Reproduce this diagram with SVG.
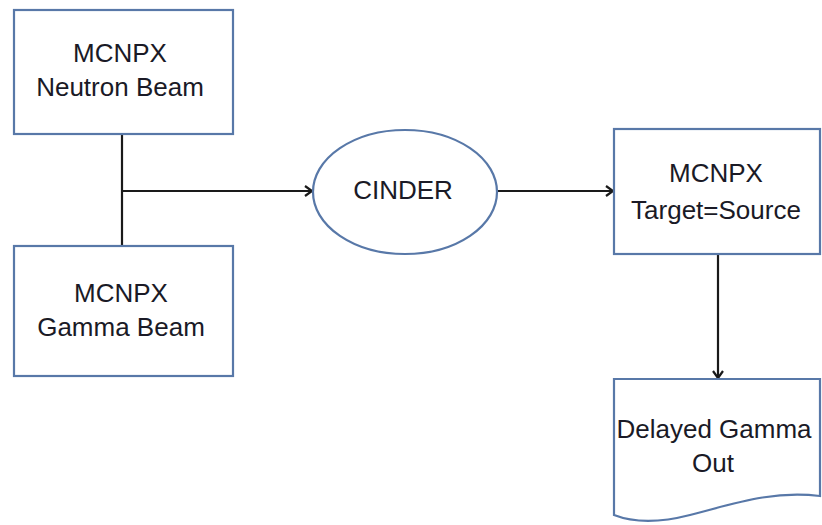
<svg xmlns="http://www.w3.org/2000/svg" width="822" height="525" viewBox="0 0 822 525">
<defs>
<style>
.n{fill:#fff;stroke:#5878a8;stroke-width:2.2}
.t{font-family:"Liberation Sans",Arial,sans-serif;font-size:26px;fill:#1a1a26;text-anchor:middle}
.c{fill:none;stroke:#1a1a1a;stroke-width:2.2}
</style>
<marker id="ar" markerWidth="12" markerHeight="12" refX="10" refY="6" orient="auto" markerUnits="userSpaceOnUse">
<path d="M3,1 L10,6 L3,11" fill="none" stroke="#1a1a1a" stroke-width="2.2"/>
</marker>
</defs>
<rect width="822" height="525" fill="#fff"/>
<g id="connectors">
<path class="c" d="M122,134 V246"/>
<path class="c" d="M122,191 H312" marker-end="url(#ar)"/>
<path class="c" d="M498,191 H613" marker-end="url(#ar)"/>
<path class="c" d="M718,254 V378" marker-end="url(#ar)"/>
</g>
<g id="neutron">
<rect class="n" x="14" y="10" width="219" height="124"/>
<text class="t" x="120" y="62">MCNPX</text>
<text class="t" x="120" y="96">Neutron Beam</text>
</g>
<g id="gamma">
<rect class="n" x="14" y="246" width="219" height="130"/>
<text class="t" x="121" y="302">MCNPX</text>
<text class="t" x="121" y="336">Gamma Beam</text>
</g>
<g id="cinder">
<ellipse class="n" cx="405" cy="192" rx="92" ry="62"/>
<text class="t" x="403" y="199">CINDER</text>
</g>
<g id="target">
<rect class="n" x="614" y="129" width="206" height="125"/>
<text class="t" x="716" y="182">MCNPX</text>
<text class="t" x="716" y="219">Target=Source</text>
</g>
<g id="delayed">
<path class="n" d="M614,379 H820 V496 C770,490 730,505 690,515 C655,524 632,522 614,515 Z"/>
<text class="t" x="714" y="438">Delayed Gamma</text>
<text class="t" x="713" y="472">Out</text>
</g>
</svg>
